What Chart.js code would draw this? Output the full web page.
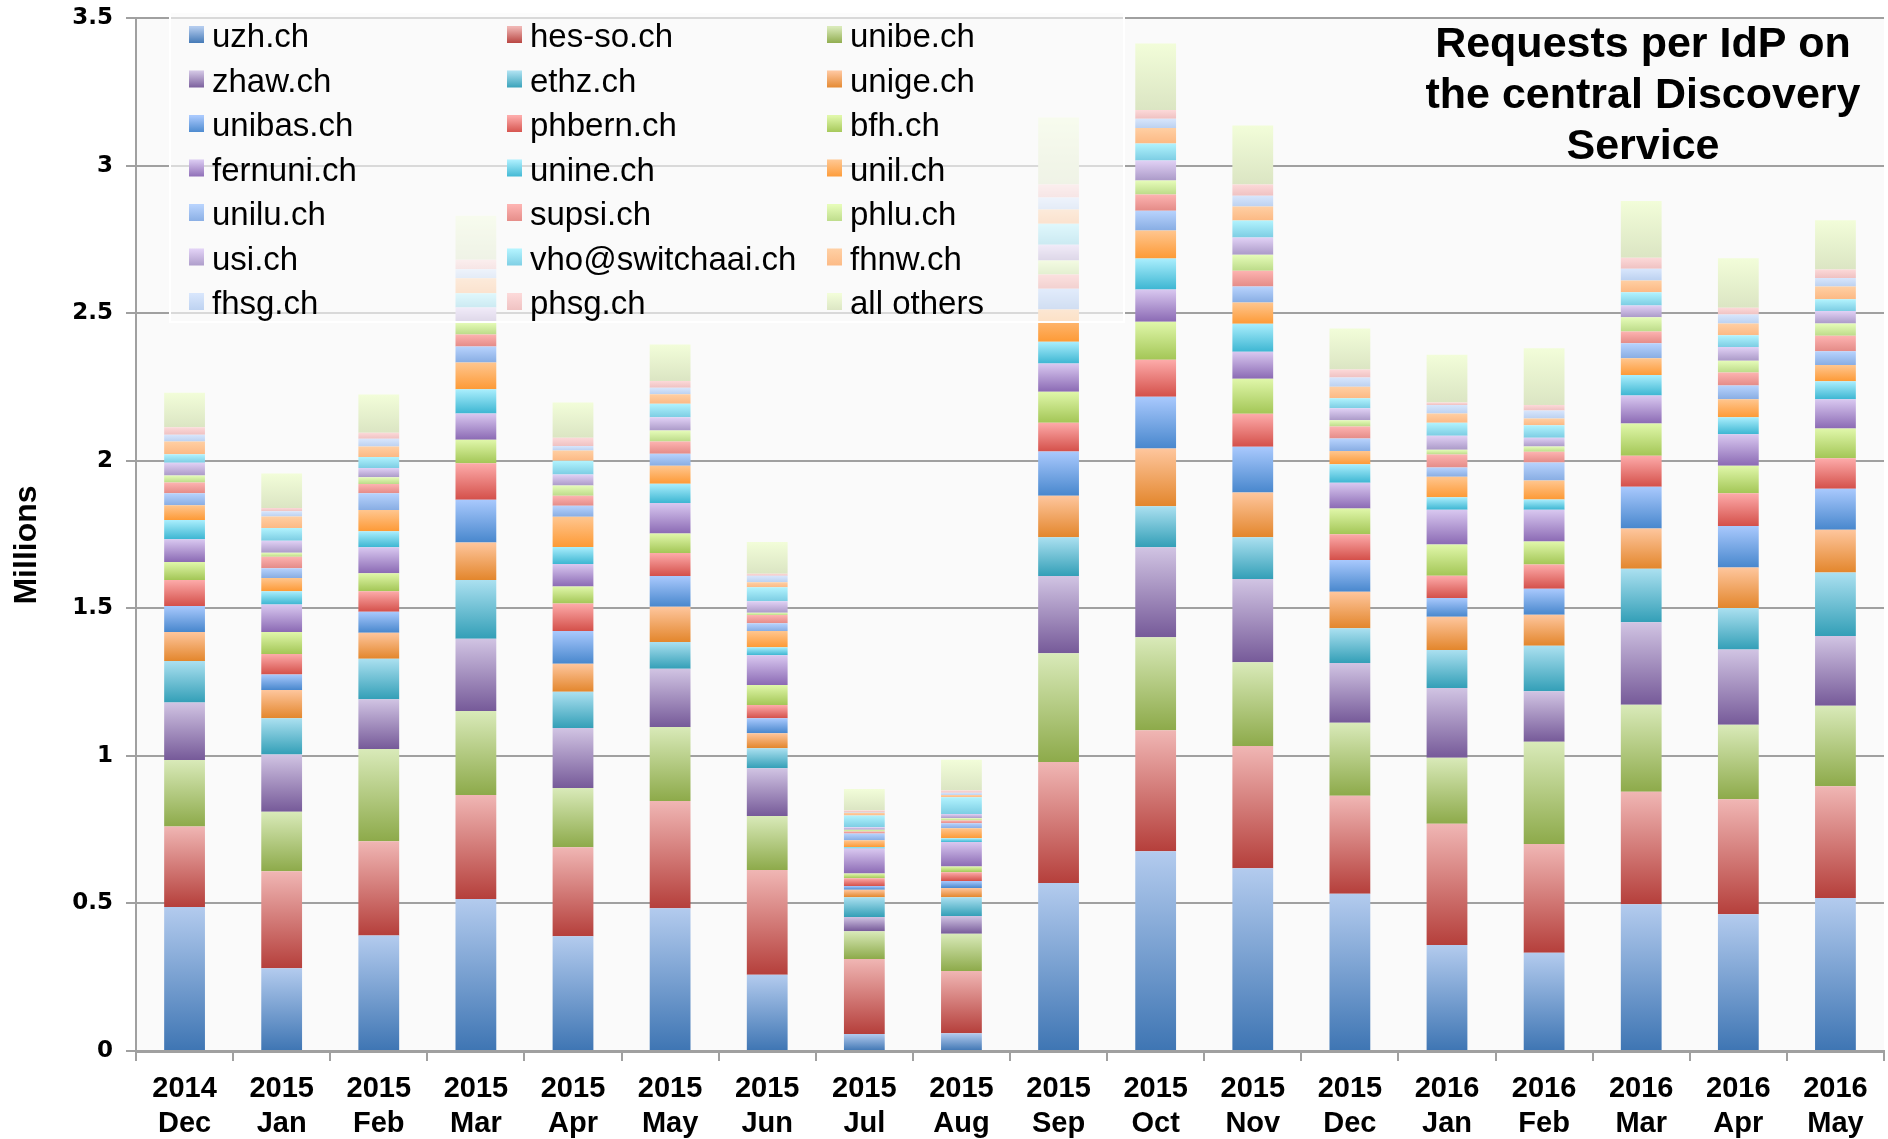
<!DOCTYPE html>
<html>
<head>
<meta charset="utf-8">
<title>Requests per IdP on the central Discovery Service</title>
<script src="https://cdn.jsdelivr.net/npm/chart.js@4/dist/chart.umd.min.js"></script>
<style>
  html, body { margin: 0; padding: 0; background: #fff; }
  #wrap { width: 1888px; height: 1139px; position: relative; }
</style>
</head>
<body>
<div id="wrap"><canvas id="idpChart"></canvas></div>
<script>
// months shown on the x axis (year, month)
const months = [
    ['2014', 'Dec'], ['2015', 'Jan'], ['2015', 'Feb'], ['2015', 'Mar'], ['2015', 'Apr'], ['2015', 'May'],
    ['2015', 'Jun'], ['2015', 'Jul'], ['2015', 'Aug'], ['2015', 'Sep'], ['2015', 'Oct'], ['2015', 'Nov'],
    ['2015', 'Dec'], ['2016', 'Jan'], ['2016', 'Feb'], ['2016', 'Mar'], ['2016', 'Apr'], ['2016', 'May']
];

// requests in millions, one array per IdP (stacked bottom to top)
const uzh     = [0.488, 0.280, 0.391, 0.515, 0.389, 0.484, 0.258, 0.058, 0.060, 0.569, 0.677, 0.619, 0.533, 0.359, 0.333, 0.497, 0.463, 0.518];
const hesso   = [0.273, 0.329, 0.320, 0.352, 0.301, 0.363, 0.355, 0.254, 0.211, 0.410, 0.410, 0.414, 0.332, 0.411, 0.368, 0.381, 0.390, 0.379];
const unibe   = [0.225, 0.202, 0.312, 0.285, 0.201, 0.251, 0.183, 0.094, 0.126, 0.369, 0.315, 0.284, 0.247, 0.224, 0.347, 0.295, 0.252, 0.273];
const zhaw    = [0.195, 0.194, 0.169, 0.245, 0.203, 0.197, 0.162, 0.048, 0.060, 0.261, 0.305, 0.282, 0.203, 0.236, 0.171, 0.280, 0.255, 0.236];
const ethz    = [0.140, 0.122, 0.137, 0.199, 0.123, 0.091, 0.068, 0.067, 0.064, 0.132, 0.139, 0.142, 0.117, 0.129, 0.154, 0.181, 0.141, 0.215];
const unige   = [0.099, 0.096, 0.088, 0.127, 0.095, 0.119, 0.051, 0.025, 0.031, 0.140, 0.195, 0.151, 0.124, 0.112, 0.105, 0.136, 0.137, 0.145];
const unibas  = [0.088, 0.053, 0.071, 0.145, 0.111, 0.104, 0.050, 0.013, 0.024, 0.150, 0.176, 0.155, 0.108, 0.064, 0.088, 0.142, 0.141, 0.139];
const phbern  = [0.088, 0.069, 0.070, 0.123, 0.093, 0.078, 0.045, 0.026, 0.030, 0.098, 0.125, 0.112, 0.087, 0.075, 0.082, 0.105, 0.111, 0.103];
const bfh     = [0.061, 0.075, 0.061, 0.080, 0.058, 0.066, 0.068, 0.016, 0.019, 0.105, 0.129, 0.119, 0.087, 0.106, 0.078, 0.109, 0.093, 0.101];
const fernuni = [0.077, 0.093, 0.088, 0.089, 0.076, 0.104, 0.101, 0.085, 0.083, 0.095, 0.109, 0.091, 0.087, 0.118, 0.108, 0.095, 0.107, 0.099];
const unine   = [0.065, 0.045, 0.054, 0.082, 0.058, 0.065, 0.027, 0.005, 0.013, 0.074, 0.105, 0.095, 0.063, 0.042, 0.035, 0.069, 0.057, 0.061];
const unil    = [0.050, 0.045, 0.072, 0.091, 0.102, 0.061, 0.055, 0.023, 0.034, 0.109, 0.095, 0.072, 0.045, 0.070, 0.064, 0.057, 0.061, 0.055];
const unilu   = [0.041, 0.033, 0.057, 0.054, 0.037, 0.041, 0.026, 0.023, 0.017, 0.071, 0.067, 0.054, 0.042, 0.031, 0.061, 0.051, 0.047, 0.047];
const supsi   = [0.036, 0.039, 0.031, 0.041, 0.034, 0.041, 0.028, 0.007, 0.009, 0.048, 0.055, 0.054, 0.041, 0.044, 0.036, 0.040, 0.044, 0.052];
const phlu    = [0.024, 0.013, 0.023, 0.041, 0.035, 0.037, 0.008, 0.006, 0.008, 0.047, 0.047, 0.054, 0.021, 0.016, 0.018, 0.048, 0.040, 0.042];
const usi     = [0.043, 0.041, 0.031, 0.050, 0.037, 0.045, 0.039, 0.008, 0.014, 0.054, 0.068, 0.058, 0.041, 0.048, 0.030, 0.040, 0.046, 0.042];
const vho     = [0.029, 0.043, 0.038, 0.048, 0.047, 0.046, 0.047, 0.040, 0.057, 0.071, 0.058, 0.058, 0.034, 0.044, 0.042, 0.045, 0.040, 0.040];
const fhnw    = [0.043, 0.039, 0.035, 0.051, 0.035, 0.032, 0.017, 0.009, 0.007, 0.048, 0.052, 0.047, 0.039, 0.031, 0.023, 0.040, 0.040, 0.043];
const fhsg    = [0.023, 0.018, 0.026, 0.031, 0.015, 0.022, 0.022, 0.003, 0.008, 0.041, 0.032, 0.037, 0.031, 0.029, 0.027, 0.039, 0.030, 0.029];
const phsg    = [0.025, 0.011, 0.021, 0.032, 0.028, 0.023, 0.007, 0.005, 0.008, 0.044, 0.029, 0.038, 0.027, 0.008, 0.019, 0.038, 0.023, 0.029];
const others  = [0.117, 0.117, 0.129, 0.149, 0.119, 0.124, 0.108, 0.073, 0.104, 0.227, 0.226, 0.200, 0.139, 0.162, 0.192, 0.192, 0.168, 0.167];

const seriesNames = ['uzh.ch', 'hes-so.ch', 'unibe.ch', 'zhaw.ch', 'ethz.ch', 'unige.ch', 'unibas.ch', 'phbern.ch',
    'bfh.ch', 'fernuni.ch', 'unine.ch', 'unil.ch', 'unilu.ch', 'supsi.ch', 'phlu.ch', 'usi.ch',
    'vho@switchaai.ch', 'fhnw.ch', 'fhsg.ch', 'phsg.ch', 'all others'];
const seriesValues = [uzh, hesso, unibe, zhaw, ethz, unige, unibas, phbern, bfh, fernuni, unine, unil,
    unilu, supsi, phlu, usi, vho, fhnw, fhsg, phsg, others];

// [top (light), bottom (dark)] of each segment gradient
const seriesColors = [
    ['#b3cbee', '#3e75b3'], ['#f0b6b4', '#b53f3b'], ['#d9eab9', '#8daa4a'], ['#d1c4e3', '#765a99'],
    ['#abe0f0', '#339fb7'], ['#fec69d', '#e3862c'], ['#a9c9fd', '#4887cd'], ['#fdabaa', '#d4504a'],
    ['#e0f7aa', '#a3c656'], ['#d9c8f0', '#8b6ab4'], ['#aaeefd', '#3db6d2'], ['#ffc68f', '#fd9a36'],
    ['#b8d3fd', '#88ade3'], ['#fdb3b1', '#e48b87'], ['#e6fcb9', '#bcdb89'], ['#e1d1f5', '#ab9ac8'],
    ['#b2f3fe', '#7ccde3'], ['#ffcfa3', '#fcb984'], ['#d8e6fc', '#bcd1f0'], ['#fcd9d9', '#efc1c1'],
    ['#f2fdd9', '#dbe5c3']
];

const yTicks = [0, 0.5, 1, 1.5, 2, 2.5, 3, 3.5];
const titleLines = ['Requests per IdP on', 'the central Discovery', 'Service'];
const yTitle = 'Millions';

const gridGray = '#a0a0a0';
const sans = '"Liberation Sans", Arial, sans-serif';

function segmentFill(context) {
    const d = context.datasetIndex, i = context.dataIndex;
    const cols = seriesColors[d];
    const chart = context.chart;
    const y = chart.scales && chart.scales.y;
    if (!chart.chartArea || !y || i === undefined) return cols[1];
    let base = 0;
    for (let k = 0; k < d; k++) base += seriesValues[k][i];
    const top = base + seriesValues[d][i];
    const y0 = y.getPixelForValue(top), y1 = y.getPixelForValue(base);
    if (!isFinite(y0) || !isFinite(y1) || y1 - y0 < 0.5) return cols[1];
    const g = chart.ctx.createLinearGradient(0, y0, 0, y1);
    g.addColorStop(0, cols[0]);
    g.addColorStop(1, cols[1]);
    return g;
}

const datasets = seriesNames.map((name, k) => ({
    label: name,
    data: seriesValues[k],
    backgroundColor: segmentFill,
    borderWidth: 0,
    categoryPercentage: 1.0,
    barPercentage: 0.42
}));

const decorPlugin = {
    id: 'decor',
    beforeDraw(chart) {
        const { ctx, chartArea: a } = chart;
        ctx.save();
        ctx.fillStyle = '#ffffff';
        ctx.fillRect(0, 0, chart.width, chart.height);
        ctx.fillStyle = '#fafafa';
        ctx.fillRect(a.left, a.top, a.right - a.left, a.bottom - a.top);
        ctx.restore();
    },
    afterDatasetsDraw(chart) {
        const ctx = chart.ctx;
        ctx.save();
        // legend box over the bars
        const bx = 170, by = 12, bw = 954, bh = 310;
        ctx.fillStyle = 'rgba(250,250,250,0.63)';
        ctx.fillRect(bx, by, bw, bh);
        ctx.strokeStyle = '#ffffff';
        ctx.lineWidth = 2;
        ctx.strokeRect(bx, by, bw, bh);

        const colX = [189, 507, 827];
        const rowY0 = 37, rowStep = 44.5;
        ctx.font = '33px ' + sans;
        ctx.textBaseline = 'middle';
        ctx.textAlign = 'left';
        seriesNames.forEach((name, k) => {
            const c = k % 3, r = Math.floor(k / 3);
            const x = colX[c], y = rowY0 + r * rowStep;
            const g = ctx.createLinearGradient(0, y - 10, 0, y + 7);
            g.addColorStop(0, seriesColors[k][0]);
            g.addColorStop(1, seriesColors[k][1]);
            ctx.fillStyle = g;
            ctx.fillRect(x, y - 11, 15, 17);
            ctx.fillStyle = '#000';
            ctx.fillText(name, x + 23, y + 1);
        });

        // chart title
        ctx.font = 'bold 43px ' + sans;
        ctx.textAlign = 'center';
        titleLines.forEach((t, j) => ctx.fillText(t, 1643, 45 + j * 51));

        // y axis title
        ctx.translate(27, 545);
        ctx.rotate(-Math.PI / 2);
        ctx.font = 'bold 32px ' + sans;
        ctx.fillText(yTitle, 0, 0);
        ctx.restore();
    }
};

new Chart(document.getElementById('idpChart'), {
    type: 'bar',
    data: { labels: months, datasets: datasets },
    options: {
        responsive: true,
        maintainAspectRatio: false,
        animation: false,
        layout: { padding: { top: 18, right: 4, bottom: 0, left: 0 } },
        scales: {
            x: {
                stacked: true,
                afterFit: s => { s.height = 88; s.paddingLeft = 0; s.paddingRight = 0; },
                grid: { display: true, drawOnChartArea: false, drawTicks: true, tickLength: 10, offset: true, color: gridGray, lineWidth: 2 },
                border: { color: gridGray, width: 3 },
                ticks: {
                    color: '#000',
                    padding: 11,
                    maxRotation: 0,
                    autoSkip: false,
                    font: { family: sans, size: 29, weight: 'bold', lineHeight: 1.2 }
                }
            },
            y: {
                stacked: true,
                min: 0,
                max: 3.5,
                afterFit: s => { s.width = 136; s.paddingTop = 0; s.paddingBottom = 0; },
                afterBuildTicks: s => { s.ticks = yTicks.map(v => ({ value: v })); },
                grid: { color: gridGray, lineWidth: 2, tickLength: 10, drawTicks: true },
                border: { color: gridGray, width: 2 },
                ticks: {
                    color: '#000',
                    padding: 13,
                    callback: v => String(v),
                    font: { family: '"DejaVu Sans", Verdana, sans-serif', size: 23, weight: 'bold' }
                }
            }
        },
        plugins: {
            legend: { display: false },
            title: { display: false },
            tooltip: { enabled: false }
        }
    },
    plugins: [decorPlugin]
});
</script>
</body>
</html>
